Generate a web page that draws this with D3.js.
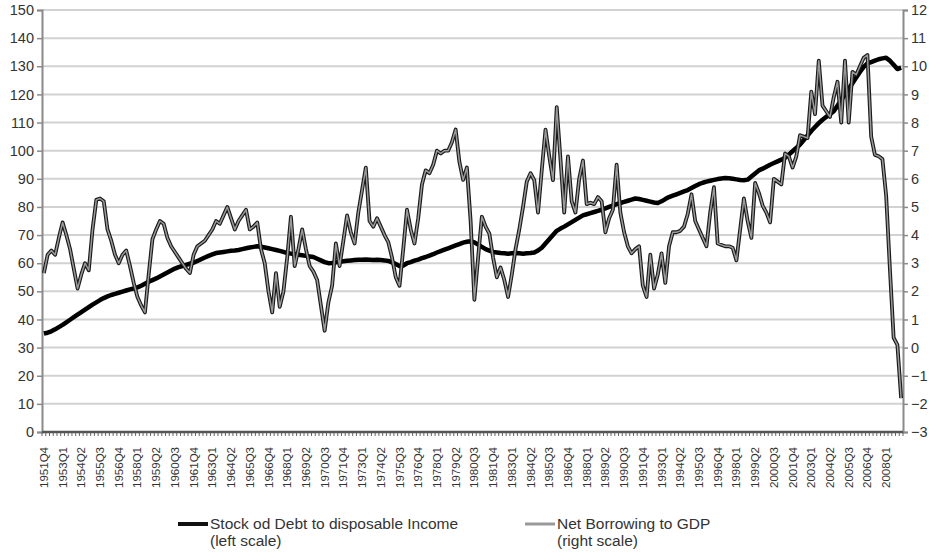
<!DOCTYPE html>
<html><head><meta charset="utf-8">
<script src="https://cdn.jsdelivr.net/npm/d3@7"></script>
<style>
html,body{margin:0;padding:0;background:#fff;}
svg{display:block;font-family:"Liberation Sans",Arial,Helvetica,sans-serif;}
</style></head>
<body><svg id="c" width="934" height="554"></svg>
<script>
// quarterly categories 1951Q4 .. 2009Q1
const startYear = 1951, startQ = 4, nQuarters = 230;
const categories = [];
for (let k = 0; k < nQuarters; k++) {
  const q0 = startQ - 1 + k;
  categories.push((startYear + Math.floor(q0 / 4)) + "Q" + (q0 % 4 + 1));
}
const labelEvery = 5;

// Stock of debt to disposable income (left scale)
const debt = [
35,35.3,35.8,36.5,37.3,38.1,39.0,39.9,40.8,41.7,
42.6,43.5,44.4,45.3,46.1,46.9,47.6,
48.2,48.7,49.1,49.5,49.9,50.3,
50.7,51.0,51.4,
52.0,52.7,53.4,54.0,54.6,
55.3,56.0,56.7,57.4,58.1,
58.6,59.0,59.4,59.8,60.2,
60.8,61.4,62.0,62.6,63.1,63.6,
63.8,64.0,64.2,64.4,64.5,64.7,
65.0,65.3,65.6,65.8,66.0,
65.9,65.6,65.3,65.0,64.7,64.4,64.0,63.6,
63.4,63.2,63.0,62.8,62.6,62.4,62.2,
61.6,61.0,60.4,60.0,
60.1,60.3,60.5,60.7,60.9,61.0,61.1,
61.2,61.2,61.3,61.2,61.1,61.2,61.1,61.0,60.8,
60.3,59.7,59.0,59.2,
60.0,60.4,60.9,61.3,61.8,62.2,
62.7,63.2,63.8,64.3,64.8,65.3,
65.8,66.3,66.8,67.3,67.6,
67.8,67.4,66.6,65.8,65.0,64.5,64.0,63.8,63.6,
63.5,63.4,63.5,63.6,63.5,63.4,63.5,63.6,63.8,
64.5,65.5,67.0,68.5,70.0,71.5,
72.3,73.0,73.8,74.6,75.4,76.2,77.0,
77.4,77.8,78.2,78.6,79.0,
79.5,80.0,80.5,81.0,81.4,
81.8,82.2,82.6,83.0,
82.8,82.5,82.2,81.9,81.6,81.4,
82.0,82.8,83.5,
84.0,84.5,85.0,85.5,86.0,
86.7,87.4,88.1,88.6,
89.0,89.3,89.6,89.9,90.1,90.3,
90.2,90.0,89.8,89.6,89.5,89.7,
90.8,91.9,93.0,
93.6,94.3,95.0,95.6,
96.2,96.8,97.5,
98.6,99.8,101.0,102.2,
103.8,105.4,107.0,
108.4,109.8,111.0,
112.0,113.0,114.0,
116.0,118.0,120.0,122.0,124.0,
126.0,128.0,129.8,131.0,
131.5,132.0,132.5,132.8,133.0,
132.0,130.5,129.0,129.5
];

// Net borrowing to GDP (right scale)
const netBorrowing = [
2.65,3.3,3.45,3.3,3.9,4.45,4.0,3.5,2.8,2.1,
2.6,3.0,2.75,4.2,5.25,5.3,5.2,4.2,3.8,3.3,
3.0,3.3,3.45,2.9,2.3,1.8,1.5,1.25,2.6,3.85,
4.2,4.5,4.4,3.9,3.6,3.4,3.2,3.0,2.8,2.65,
3.3,3.6,3.7,3.8,4.0,4.2,4.5,4.4,4.7,5.0,
4.6,4.2,4.5,4.7,4.9,4.2,4.3,4.45,3.5,3.0,
2.0,1.25,2.65,1.45,2.0,3.2,4.65,2.9,3.5,4.2,
3.5,2.9,2.7,2.4,1.5,0.6,1.6,2.2,3.7,2.9,
3.8,4.7,4.1,3.7,4.8,5.6,6.4,4.5,4.3,4.6,
4.3,4.0,3.75,3.2,2.5,2.2,3.5,4.9,4.2,3.7,
4.6,5.8,6.3,6.2,6.5,7.0,6.9,7.0,7.0,7.3,
7.75,6.6,5.96,6.4,4.5,1.7,3.2,4.65,4.3,4.05,
3.2,2.5,2.85,2.4,1.8,2.6,3.5,4.2,5.0,5.9,
6.2,5.95,4.8,6.3,7.75,6.8,5.95,8.55,6.7,4.8,
6.8,5.2,4.8,6.0,6.65,5.1,5.15,5.1,5.35,5.2,
4.1,4.6,4.9,6.5,4.8,4.1,3.6,3.35,3.5,3.6,
2.2,1.8,3.3,2.1,2.6,3.35,2.3,3.6,4.1,4.1,
4.15,4.3,4.75,5.45,4.5,4.2,3.9,3.6,4.8,5.7,
3.7,3.65,3.6,3.6,3.55,3.1,4.2,5.3,4.5,3.9,
5.85,5.5,5.05,4.8,4.45,6.0,5.9,5.8,6.9,6.8,
6.4,6.8,7.55,7.5,7.45,9.1,8.3,10.2,8.6,8.4,
8.2,8.9,9.45,8.0,10.2,8.0,9.8,9.7,10.0,10.3,
10.4,7.5,6.85,6.8,6.7,5.4,2.8,0.35,0.1,-1.8
];

const leftTicks = [0,10,20,30,40,50,60,70,80,90,100,110,120,130,140,150];
const rightTicks = [-3,-2,-1,0,1,2,3,4,5,6,7,8,9,10,11,12];
const seriesNames = [["Stock od Debt to disposable Income","(left scale)"],["Net Borrowing to GDP","(right scale)"]];

const svg = d3.select("#c");
const L = 42, R = 903, T = 10, B = 432;
const x = d3.scaleBand().domain(categories).range([L, R]).padding(0);
const cx = c => x(c) + x.bandwidth() / 2;
const yL = d3.scaleLinear().domain([0,150]).range([B,T]);
const yR = d3.scaleLinear().domain([-3,12]).range([B,T]);
const FONT = "Liberation Sans, Arial, sans-serif";

// gridlines
svg.append("g").selectAll("line").data(leftTicks.filter(v => v > 0)).join("line")
  .attr("x1", L).attr("x2", R).attr("y1", d => yL(d)).attr("y2", d => yL(d))
  .attr("stroke", "#d2d2d2").attr("stroke-width", 2);

// left axis
const gl = svg.append("g").attr("transform", `translate(${L},0)`)
  .call(d3.axisLeft(yL).tickValues(leftTicks).tickSize(5).tickPadding(3));
gl.select(".domain").attr("stroke", "#8a8a8a").attr("stroke-width", 2);
gl.selectAll(".tick line").attr("stroke", "#8a8a8a").attr("stroke-width", 1.5);
gl.selectAll("text").attr("font-size", 14.5).attr("fill", "#333").style("font-family", FONT);

// right axis
const gr = svg.append("g").attr("transform", `translate(${R},0)`)
  .call(d3.axisRight(yR).tickValues(rightTicks).tickSize(5).tickPadding(3));
gr.select(".domain").attr("stroke", "#8a8a8a").attr("stroke-width", 2);
gr.selectAll(".tick line").attr("stroke", "#8a8a8a").attr("stroke-width", 1.5);
gr.selectAll("text").attr("font-size", 14.5).attr("fill", "#333").style("font-family", FONT);

// bottom axis
const gb = svg.append("g").attr("transform", `translate(0,${B})`)
  .call(d3.axisBottom(x).tickValues(categories.filter((c,i) => i % labelEvery === 0)).tickSize(0).tickPadding(6));
gb.select(".domain").remove();
gb.selectAll("text")
  .attr("font-size", 11.5).attr("fill", "#333").style("font-family", FONT)
  .attr("text-anchor", "end").attr("dy", "0.35em")
  .attr("transform", "translate(0,15) rotate(-90)").attr("x", 0).attr("y", 0);
// category boundary ticks
svg.append("g").selectAll("line").data(categories.concat(["__end"])).join("line")
  .attr("x1", (d,i) => i < categories.length ? x(d) : R)
  .attr("x2", (d,i) => i < categories.length ? x(d) : R)
  .attr("y1", B).attr("y2", B + 4).attr("stroke", "#666").attr("stroke-width", 1);
svg.append("line").attr("x1", L).attr("x2", R).attr("y1", B).attr("y2", B)
  .attr("stroke", "#555").attr("stroke-width", 2.5);

// series
const lineDebt = d3.line().x((d,i) => cx(categories[i])).y(d => yL(d));
const lineNB = d3.line().x((d,i) => cx(categories[i])).y(d => yR(d));
svg.append("path").datum(debt).attr("d", lineDebt).attr("fill", "none")
  .attr("stroke", "#000").attr("stroke-width", 4.5).attr("stroke-linejoin", "round");
svg.append("path").datum(netBorrowing).attr("d", lineNB).attr("fill", "none")
  .attr("stroke", "#1a1a1a").attr("stroke-width", 3.8).attr("stroke-linejoin", "round");
svg.append("path").datum(netBorrowing).attr("d", lineNB).attr("fill", "none")
  .attr("stroke", "#9a9a9a").attr("stroke-width", 1.5).attr("stroke-linejoin", "round");

// legend
const leg = svg.append("g").style("font-family", FONT);
const legItems = [
  {x: 178, color: "#111", w: 4, names: seriesNames[0]},
  {x: 525, color: "#999", w: 3, names: seriesNames[1]}
];
legItems.forEach(it => {
  leg.append("line").attr("x1", it.x).attr("x2", it.x + 30).attr("y1", 524).attr("y2", 524)
    .attr("stroke", it.color).attr("stroke-width", it.w);
  it.names.forEach((t, j) => {
    leg.append("text").attr("x", it.x + 32).attr("y", 529 + j * 17)
      .attr("font-size", 15.5).attr("fill", "#333").text(t);
  });
});
</script></body></html>
